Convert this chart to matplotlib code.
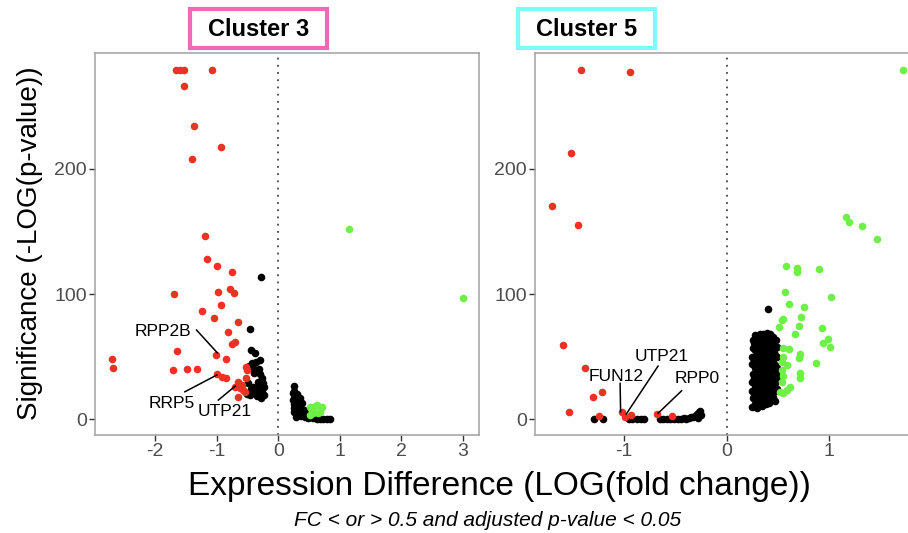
import matplotlib
matplotlib.use("Agg")
import matplotlib.pyplot as plt
from matplotlib.patches import Rectangle

plt.rcParams['font.family'] = ['Liberation Sans', 'DejaVu Sans']

RED = "#ED3224"
GREEN = "#6EF046"
BLACK = "#000000"

# ---- Cluster 3 ----
c3_down_x = [-1.66, -1.60, -1.53, -1.08, -1.54, -1.37, -0.94, -1.41, -1.19, -1.16,
             -0.99, -0.76, -1.70, -0.98, -0.785, -0.72, -0.93, -1.24, -1.05, -0.66,
             -0.82, -0.71, -0.76, -1.64, -1.01, -0.855, -2.70, -2.68, -1.71, -1.48,
             -1.32, -0.99, -0.92, -0.845, -0.525, -0.51, -0.53, -0.66, -0.595, -0.62,
             -0.57, -0.65, -0.54, -0.70]
c3_down_y = [279, 279, 279, 279, 266, 234, 217.6, 207.5, 146, 128,
             122.6, 117.6, 100, 102, 104, 101, 91, 86.7, 80.6, 77.4,
             69.7, 62, 60, 54.8, 51.6, 47.9, 48, 41.2, 39.3, 40.1,
             40.1, 35.9, 33.5, 33, 41.5, 39.3, 32.7, 30, 27.4, 24.7,
             23.4, 18, 22, 26]
c3_ns_x = [-0.28, -0.455, -0.44, -0.38, -0.30, -0.37, -0.47, -0.42, -0.395, -0.27,
           -0.325, -0.50, -0.41, -0.30, -0.27, -0.46, -0.35, -0.51, -0.25, -0.24,
           -0.43, -0.39, -0.24, -0.43, -0.38, -0.33, -0.28, -0.36, -0.45, -0.30,
           -0.32,
           0.26, 0.25, 0.245, 0.25, 0.245, 0.26, 0.25, 0.26, 0.28, 0.30,
           0.32, 0.35, 0.30, 0.33, 0.38, 0.29, 0.35, 0.41, 0.32, 0.37,
           0.43, 0.48, 0.57, 0.62, 0.68, 0.73, 0.79, 0.84, 0.28, 0.40,
           0.45, 0.52]
c3_ns_y = [114, 71.8, 55.3, 53.2, 47.3, 46, 42.5, 40.7, 37.2, 32.7,
           30, 29.2, 26, 26, 22, 19.4, 18.8, 20, 28.7, 19.4,
           44.7, 38, 26, 20.7, 23.4, 21, 17, 25, 24, 36,
           40,
           26.6, 23, 20.7, 17, 15.4, 12, 9, 6, 4.8, 20,
           18, 16.7, 14, 11, 12.8, 8, 7, 7.4, 4, 3,
           2, 1, 0.8, 0.3, 0, 0.2, 0, 0, 2, 5,
           4, 1.5]
c3_up_x = [1.14, 3.0, 0.515, 0.60, 0.715, 0.515, 0.65, 0.57, 0.68, 0.54, 0.62]
c3_up_y = [152, 96.6, 10, 10.6, 10, 3.4, 4.8, 5.3, 6, 8, 11.4]

# ---- Cluster 5 ----
c5_down_x = [-1.42, -0.94, -1.52, -1.70, -1.45, -1.60, -1.385, -1.30, -1.22, -1.535,
             -1.25, -1.02, -0.99, -0.93, -0.68, -0.53]
c5_down_y = [278.8, 277.7, 212.3, 170.2, 154.8, 59, 41.2, 18, 22, 6,
             2.9, 6, 2, 3.2, 4.2, 2.6]
c5_ns_x = [-1.29, -1.21, -0.95, -0.92, -0.88, -0.84, -0.81, -0.65, -0.62, -0.58,
           -0.55, -0.51, -0.48, -0.45, -0.42, -0.40, -0.37, -0.35, -0.33, -0.31,
           -0.29, -0.28, -0.27, -0.26, -0.30, -0.25, 0.405,
           0.25, 0.255, 0.245, 0.25, 0.26, 0.245, 0.25, 0.255, 0.26,
           0.275, 0.27, 0.28, 0.27, 0.275, 0.265, 0.28, 0.27, 0.28,
           0.30, 0.29, 0.295, 0.30, 0.29, 0.30, 0.295, 0.29, 0.30,
           0.32, 0.31, 0.325, 0.31, 0.32, 0.315, 0.32, 0.31, 0.32,
           0.34, 0.335, 0.33, 0.345, 0.34, 0.33, 0.34, 0.345, 0.335,
           0.355, 0.36, 0.35, 0.355, 0.36, 0.35, 0.36, 0.355, 0.35,
           0.38, 0.375, 0.37, 0.38, 0.37, 0.38, 0.375, 0.37, 0.38,
           0.39, 0.40, 0.395, 0.39, 0.40, 0.395, 0.39, 0.40, 0.395,
           0.415, 0.41, 0.42, 0.41, 0.415, 0.42, 0.41, 0.415, 0.42,
           0.43, 0.44, 0.435, 0.43, 0.44, 0.435, 0.43, 0.44,
           0.455, 0.45, 0.46, 0.455, 0.45, 0.46, 0.455, 0.45,
           0.47, 0.475, 0.47, 0.48, 0.47, 0.475, 0.47, 0.48,
           0.49, 0.495, 0.49, 0.495, 0.49]
c5_ns_y = [0, 0, 0, 0.3, 0, 0, 0, 0.5, 0, 0.3,
           0, 0, 0.5, 0, 0.8, 0.3, 1, 1.5, 2, 3,
           4, 1, 5.5, 6.5, 2.5, 3.5, 87.8,
           10, 17, 23, 30, 36, 44, 50, 57, 63,
           12, 19, 27, 33, 41, 47, 55, 61, 67,
           9, 15, 22, 31, 37, 45, 51, 59, 65,
           13, 21, 27, 35, 41, 48, 56, 62, 68,
           11, 18, 24, 32, 38, 46, 52, 58, 66,
           14, 21, 29, 35, 43, 49, 56, 63, 68,
           12, 19, 25, 33, 39, 47, 53, 60, 67,
           15, 23, 29, 37, 43, 51, 57, 64, 69,
           13, 20, 26, 34, 40, 48, 54, 61, 68,
           16, 24, 30, 38, 44, 52, 58, 65,
           18, 26, 32, 40, 46, 54, 60, 66,
           15, 23, 29, 37, 43, 51, 57, 63,
           24, 34, 41, 50, 58]
c5_up_x = [1.72, 1.16, 1.19, 1.32, 1.47, 0.575, 0.69, 0.69, 0.90, 0.57,
           1.02, 0.61, 0.75, 0.51, 0.55, 0.54, 0.725, 0.705, 0.67, 0.93,
           0.94, 0.985, 1.01, 0.55, 0.61, 0.715, 0.70, 0.87, 0.55, 0.535,
           0.585, 0.535, 0.715, 0.71, 0.55, 0.535, 0.62, 0.585, 0.55, 0.52]
c5_up_y = [278.8, 161.7, 157.5, 154.3, 143.6, 122.3, 121, 117.3, 119.7, 101.3,
           97.8, 91.8, 89.9, 74, 79.8, 79, 81.4, 74.5, 67.8, 73.1,
           60.6, 63.8, 57.5, 56.6, 55.8, 51.9, 48.7, 44.7, 50, 46,
           43.3, 39.3, 36.7, 33.2, 34.5, 30, 26, 23.4, 20.7, 22]

# labels: (name, text x, text y, line start x, y, point x, y)
c3_labels = [("RPP2B", -1.87, 70, -1.33, 71.3, -0.99, 53),
             ("RRP5", -1.73, 12.8, -1.52, 22, -1.0, 35.4),
             ("UTP21", -0.87, 6, -0.975, 15.4, -0.70, 26.6)]
c5_labels = [("FUN12", -1.08, 34, -1.04, 28.7, -1.035, 6),
             ("UTP21", -0.63, 50, -0.67, 42.5, -0.98, 4.2),
             ("RPP0", -0.29, 32.7, -0.44, 22.8, -0.67, 4.8)]

W, H = 908, 533
fig = plt.figure(figsize=(W / 100, H / 100), dpi=100)


def panel(rect, xlim, xticks, down, ns, up, labels):
    ax = fig.add_axes(rect)
    ax.scatter(ns[0], ns[1], s=30, color=BLACK, linewidths=0, zorder=3)
    ax.scatter(down[0], down[1], s=30, color=RED, linewidths=0, zorder=3)
    ax.scatter(up[0], up[1], s=30, color=GREEN, linewidths=0, zorder=3)
    ax.axvline(0, color="#444444", linestyle=(0, (1, 3)), lw=1.3, zorder=1)
    for name, tx, ty, lx, ly, px, py in labels:
        ax.plot([lx, px], [ly, py], color="black", lw=1.1, zorder=4)
        ax.text(tx, ty, name, ha="center", va="center", fontsize=12.5, zorder=5)
    ax.set_xlim(*xlim)
    ax.set_ylim(-12.5, 292.5)
    ax.set_xticks(xticks)
    ax.set_xticklabels([str(t) for t in xticks])
    ax.set_yticks([0, 100, 200])
    for sp in ax.spines.values():
        sp.set_color("#A0A0A0")
        sp.set_linewidth(1.1)
    ax.tick_params(colors="#333333", labelcolor="#4D4D4D", labelsize=14,
                   length=4, width=1.0, pad=2)
    return ax


panel([95 / W, 1 - 435 / H, 384 / W, 382 / H], (-2.98, 3.26), [-2, -1, 0, 1, 2, 3],
      (c3_down_x, c3_down_y), (c3_ns_x, c3_ns_y), (c3_up_x, c3_up_y), c3_labels)
panel([535 / W, 1 - 435 / H, 385 / W, 382 / H], (-1.87, 1.885), [-1, 0, 1],
      (c5_down_x, c5_down_y), (c5_ns_x, c5_ns_y), (c5_up_x, c5_up_y), c5_labels)

# title boxes
for x0, name, col in [(190, "Cluster 3", "#EF6AB6"), (518, "Cluster 5", "#7DFAFA")]:
    fig.patches.append(Rectangle((x0 / W, 1 - 48 / H), 137 / W, 39 / H,
                                 transform=fig.transFigure, fill=False,
                                 edgecolor=col, linewidth=3.0))
    fig.text((x0 + 68.5) / W, 1 - 29 / H, name, ha="center", va="center",
             fontsize=17, fontweight="bold",
             family=["Liberation Sans Narrow", "Liberation Sans"])

fig.text(30 / W, 1 - 243 / H, "Significance (-LOG(p-value))", rotation=90,
         ha="center", va="center", fontsize=20)
fig.text(499 / W, 1 - 487 / H, "Expression Difference (LOG(fold change))",
         ha="center", va="center", fontsize=24)
fig.text(488 / W, 1 - 521 / H, "FC < or > 0.5 and adjusted p-value < 0.05",
         ha="center", va="center", fontsize=15, style="italic")

fig.savefig("out.png", dpi=100)
